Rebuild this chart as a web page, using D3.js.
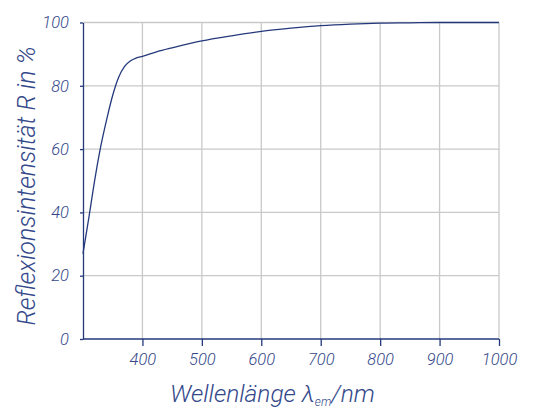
<!DOCTYPE html>
<html>
<head>
<meta charset="utf-8">
<script src="https://cdn.jsdelivr.net/npm/d3@7"></script>
<style>
  body { margin: 0; background: #fff; }
  text { font-family: Roboto, "Open Sans", sans-serif; font-style: italic; font-weight: 300; }
</style>
</head>
<body>
<svg id="chart" width="539" height="410"></svg>
<script>
// wavelength in nm
const wavelength = [300, 310, 320, 330, 340, 350, 360, 370, 380, 390, 400, 425, 450, 500, 550, 600, 650, 700, 750, 800, 850, 900, 1000]
// reflection intensity in %
const reflection = [27, 38.5, 50.5, 61, 69.5, 77, 82.7, 86.1, 87.9, 88.8, 89.3, 90.8, 92, 94.2, 95.8, 97.2, 98.2, 99, 99.5, 99.8, 99.9, 100, 100]

const xTicks = [400, 500, 600, 700, 800, 900, 1000]
const yTicks = [0, 20, 40, 60, 80, 100]

const AxisColor = "#24397c"
const TextColor = "#33488a"
const GridColor = "#c9c9c9"

const Left = 83
const Right = 499
const Top = 22.5
const Bottom = 339

const svg = d3.select("#chart")

const x = d3.scaleLinear().domain([300, 1000]).range([Left, Right])
const y = d3.scaleLinear().domain([0, 100]).range([Bottom, Top])

// grid
svg.append("g")
    .selectAll("line")
    .data(xTicks)
    .join("line")
        .attr("x1", d => x(d)).attr("x2", d => x(d))
        .attr("y1", Top).attr("y2", Bottom)
        .attr("stroke", GridColor)
        .attr("stroke-width", 1.3)
svg.append("g")
    .selectAll("line")
    .data(yTicks.filter(d => d > 0))
    .join("line")
        .attr("x1", Left).attr("x2", Right)
        .attr("y1", d => y(d)).attr("y2", d => y(d))
        .attr("stroke", GridColor)
        .attr("stroke-width", 1.3)

// axes
const xAxis = svg.append("g")
    .attr("transform", "translate(0," + Bottom + ")")
    .call(d3.axisBottom(x).tickValues(xTicks).tickFormat(d3.format("d")).tickSize(7).tickSizeOuter(0).tickPadding(7))
const yAxis = svg.append("g")
    .attr("transform", "translate(" + Left + ",0)")
    .call(d3.axisLeft(y).tickValues(yTicks).tickFormat(d3.format("d")).tickSize(3).tickSizeOuter(0).tickPadding(11))

for (const ax of [xAxis, yAxis]) {
    ax.select(".domain").attr("stroke", AxisColor).attr("stroke-width", 1.3)
    ax.selectAll(".tick line").attr("stroke", AxisColor).attr("stroke-width", 1.3)
    ax.selectAll(".tick text")
        .attr("fill", TextColor)
        .attr("font-size", "16.5px")
        .attr("font-family", "Roboto, sans-serif")
        .attr("font-style", "italic")
        .attr("font-weight", 300)
}
xAxis.select(".domain").attr("d", "M" + Left + ",0H" + Right)

// curve
svg.append("path")
    .datum(wavelength.map((w, i) => [w, reflection[i]]))
    .attr("fill", "none")
    .attr("stroke", AxisColor)
    .attr("stroke-width", 1.3)
    .attr("d", d3.line()
        .x(d => x(d[0]))
        .y(d => y(d[1]))
        .curve(d3.curveMonotoneX))

// axis titles
const xt = svg.append("text")
    .attr("x", 170)
    .attr("y", 402)
    .attr("fill", TextColor)
    .attr("font-size", "24.5px")
xt.append("tspan").text("Wellenlänge λ")
xt.append("tspan").attr("font-size", "12px").attr("dy", 4).text("em")
xt.append("tspan").attr("dy", -4).text("/nm")

svg.append("text")
    .attr("transform", "translate(35," + 186 + ") rotate(-90)")
    .attr("text-anchor", "middle")
    .attr("fill", TextColor)
    .attr("font-size", "25px")
    .text("Reflexionsintensität R in %")
</script>
</body>
</html>
